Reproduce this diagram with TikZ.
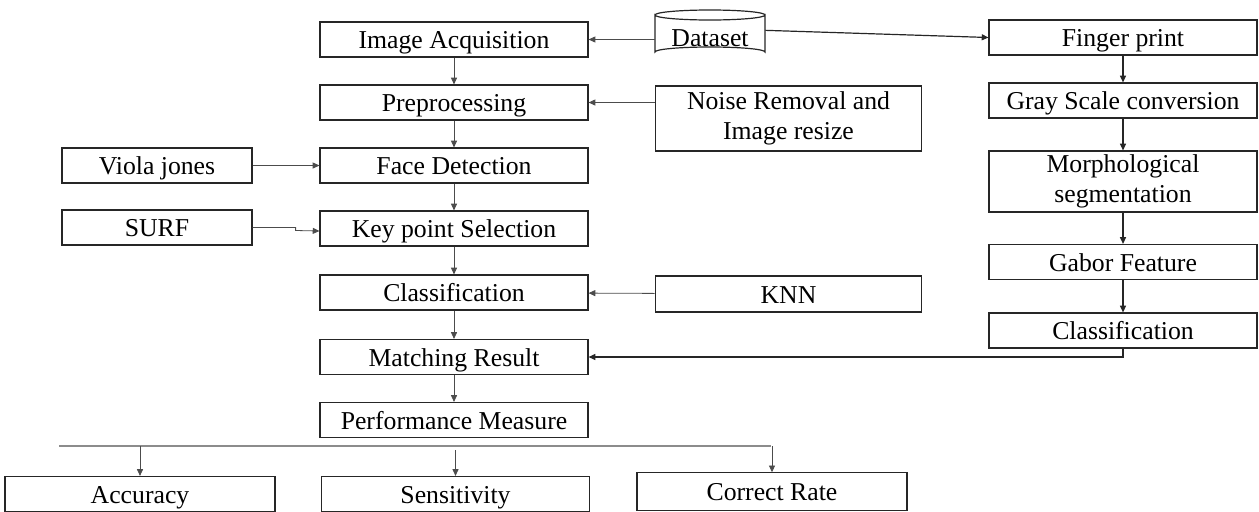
\documentclass[tikz,border=0pt]{standalone}
\usepackage{fontspec}
\setmainfont{Liberation Serif}
\usetikzlibrary{arrows.meta,calc}

\begin{document}
\begin{tikzpicture}[x=0.75pt,y=-0.75pt,
  base/.style={draw=black!85,line width=0.9pt,fill=white,inner sep=0pt,
    minimum width=201pt,minimum height=26.25pt,align=center,
    font=\fontsize{19.3}{22}\selectfont},
  box/.style={base,text height=15.5pt,text depth=2pt},
  twoline/.style={base},
  sidebox/.style={box,minimum width=142.5pt},
  link/.style={draw=black!70,line width=0.6pt,-{Triangle[length=5pt,width=4.5pt]}},
  flink/.style={draw=black!85,line width=0.9pt,-{Triangle[length=5pt,width=4.5pt]}}]
\useasboundingbox (0,0) rectangle (1259,511);

% left column: face pipeline
\node[box] (ia) at (454,39.5) {Image Acquisition};
\node[box] (pp) at (454,102.5) {Preprocessing};
\node[box] (fd) at (454,165.5) {Face Detection};
\node[box] (ks) at (454,228.5) {Key point Selection};
\node[box] (cl) at (454,292.5) {Classification};
\node[box] (mr) at (454,357) {Matching Result};
\node[box] (pm) at (454,420) {Performance Measure};

% side inputs
\node[sidebox] (vj) at (157,165.5) {Viola jones};
\node[sidebox] (surf) at (157,227.5) {SURF};
\node[twoline,minimum width=200pt,minimum height=48.75pt] (nr) at (788.5,118.5)
  {Noise Removal and\\[1pt]Image resize};
\node[box,minimum width=200pt,minimum height=27pt] (knn) at (788.5,294) {KNN};

% dataset cylinder
\node[font=\fontsize{19.3}{22}\selectfont,minimum width=82.5pt,minimum height=30pt,
  inner sep=0pt,text height=15.5pt,text depth=2pt] (ds) at (710,37) {Dataset};
\draw[black!85,line width=0.9pt]
  (655,15) arc[start angle=180,end angle=360,x radius=55,y radius=5]
  (655,15) arc[start angle=180,end angle=0,x radius=55,y radius=5]
  -- (765,52) arc[start angle=0,end angle=-180,x radius=55,y radius=5] -- cycle;

% right column: fingerprint pipeline
\node[box] (fp) at (1123,37.5) {Finger print};
\node[box] (gs) at (1123,100.5) {Gray Scale conversion};
\node[twoline,minimum height=45.75pt] (ms) at (1123,181.5) {Morphological\\[1pt]segmentation};
\node[box] (gf) at (1123,262) {Gabor Feature};
\node[box] (cr) at (1123,330.5) {Classification};

% outcome measures (cut by the lower edge)
\node[box,minimum width=202.5pt] (acc) at (140,494) {Accuracy};
\node[box] (sens) at (455.5,494) {Sensitivity};
\node[box,minimum width=202.5pt,minimum height=28pt] (corr) at (772,491.5) {Correct Rate};

% connectors: face pipeline
\draw[link] (ia) -- (pp);
\draw[link] (pp) -- (fd);
\draw[link] (fd) -- (ks);
\draw[link] (ks) -- (cl);
\draw[link] (cl) -- (mr);
\draw[link] (mr) -- (pm);

\draw[link] (ds.west |- ia.east) -- (ia.east);
\draw[link] (nr.west |- pp.east) -- (pp.east);
\draw[link] (vj) -- (fd);
\draw[link] (surf.east) -- ++(43,0) -- ++(0,3) -- (ks.west |- 0,231);
\draw[link] (knn) -- (cl);

% connectors: fingerprint pipeline
\draw[flink] ([yshift=5pt]ds.east) -- (fp.west);
\draw[flink] (fp) -- (gs);
\draw[flink] (gs) -- (ms);
\draw[flink] (ms) -- (gf);
\draw[flink] (gf) -- (cr);
\draw[flink] (cr.south) -- (cr.south |- 0,357) -- (mr.east);

% distribution bar to the measures
\coordinate (barl) at (59,446);
\coordinate (barr) at (771,446);
\draw[black!45,line width=1.1pt] (barl) -- (barr);
\draw[link] (acc.north |- barl) -- (acc.north);
\draw[link] ([yshift=-3pt]sens.north |- barl) -- (sens.north);
\draw[link] (corr.north |- barr) -- (corr.north);
\end{tikzpicture}
\end{document}
